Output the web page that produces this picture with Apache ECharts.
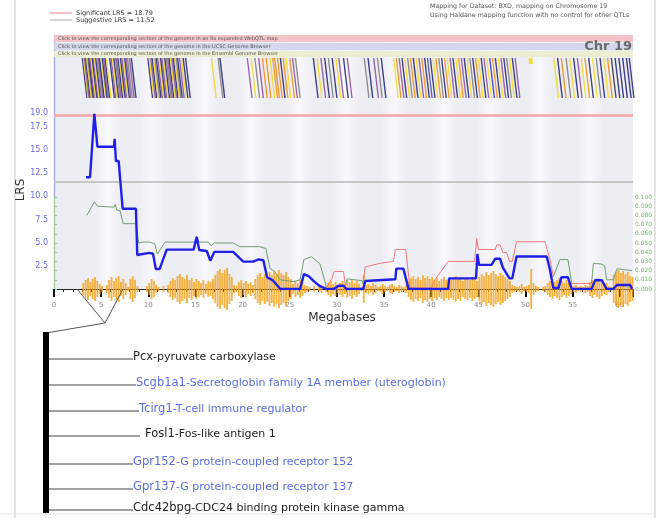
<!DOCTYPE html>
<html><head><meta charset="utf-8">
<script src="https://cdn.jsdelivr.net/npm/echarts@6/dist/echarts.min.js"></script>
<style>html,body{margin:0;padding:0;background:#fff}#chart{width:659px;height:518px}</style>
</head><body><div id="chart"></div>
<script>
// Chromosome 19 interval map: LRS curve, additive effect, SNP density and gene track
const chrLength = 61.4;
const sigLRS = 18.79;
const sugLRS = 11.52;

// LRS profile (Mb, LRS)
const lrsMb = [3.39,3.82,4.28,4.60,6.36,6.43,6.57,6.86,7.28,8.69,8.83,10.10,10.50,10.80,11.20,11.95,14.80,15.13,15.40,16.20,16.58,17.00,19.00,20.07,21.10,21.70,22.20,22.60,23.25,24.00,26.10,26.50,27.00,27.60,28.20,28.90,29.70,30.15,30.70,31.00,32.80,33.00,36.20,36.30,37.05,37.60,41.80,41.90,44.75,44.90,45.07,46.40,46.80,47.30,47.60,47.80,48.30,48.60,49.05,52.25,52.60,52.95,53.50,53.80,54.50,54.90,57.00,57.40,58.10,58.60,59.30,59.70,61.10,61.30];
const lrsVal = [12.05,12.05,18.9,15.35,15.35,16.2,13.8,13.8,8.66,8.66,3.67,3.9,3.8,2.15,2.15,4.25,4.25,5.6,4.2,4.1,3.05,4.0,4.0,2.95,2.95,3.2,3.1,1.26,0.9,0,0,1.6,1.4,0.8,0.3,0,0,0.35,0.35,0,0,0.86,1.05,2.2,2.2,0,0,1.15,1.15,3.78,2.6,2.6,3.27,3.27,2.3,2.3,1.15,1.15,3.5,3.5,2.05,0.1,0.1,1.26,1.26,0,0,0.97,0.95,0,0,0.43,0.43,0];

// Additive effect, positive (green) and negative (red, absolute value); null = gap
const greenMb = [3.47,3.82,4.28,4.60,6.36,6.50,6.65,7.00,7.35,8.70,8.98,9.48,10.20,10.70,10.96,11.77,14.95,15.13,15.40,16.36,16.65,17.00,19.00,19.72,21.80,22.00,22.47,22.90,23.40,24.00,25.40,26.10,26.50,27.30,28.20,28.90,28.90,30.90,31.10,32.70,32.90,32.90,52.95,53.65,54.50,54.90,54.90,57.00,57.20,58.10,58.40,58.60,59.30,59.70,61.30];
const greenVal = [0.080,0.086,0.095,0.090,0.089,0.092,0.086,0.085,0.071,0.071,0.050,0.051,0.051,0.049,0.038,0.051,0.051,0.057,0.051,0.051,0.047,0.050,0.050,0.046,0.046,0.044,0.044,0.0225,0.019,0.010,0.008,0.010,0.032,0.035,0.0275,0.002,null,0.004,0.011,0.009,0.001,null,0.0134,0.032,0.032,0.006,null,0.006,0.028,0.027,0.025,0.010,0.010,0.022,0.020];
const redMb = [28.90,29.50,29.70,30.70,30.90,30.90,32.80,33.00,34.60,36.00,36.20,37.30,37.75,40.00,40.40,41.80,44.60,44.83,45.00,46.80,46.95,47.30,47.60,48.00,48.30,48.60,49.05,52.07,52.60,52.95,52.95,54.90,57.00];
const redVal = [0.002,0.012,0.019,0.019,0.004,null,0.008,0.024,0.028,0.030,0.043,0.043,0.001,0.001,0.010,0.030,0.030,0.055,0.043,0.043,0.048,0.048,0.0395,0.0395,0.030,0.030,0.0514,0.0514,0.0315,0.0134,null,0.006,0.006];

// SNP density in 0.25 Mb bins starting at 0 Mb (mirrored about the axis)
const snpBin = 0.25;
const snpDensity = [0,0,0,0,0,0,0,0,0,0,0,0,
  6,9,11,7,10,12,8,5, 3,0,4, 9,12,8,11,13,7,10,6, 2, 10,13,9, 3,0,0,0,3,
  6,10,8,4, 2,0,3,0,4, 8,11,9,13,15,12,10,14,9,11,7,10,8, 6,9,5,8,7,10,
  14,18,20,16,19,21,15,12, 4,3, 7,9,6,8,5,7,4, 10,14,16,12,15,13,17,14,
  18,15,19,16,14,17,12,10, 5,8,6,9,7,4,3, 2,0,3,0,2,4,0,3, 6,8,5,7,4,
  6,8,5,9,7,10,6,8,5, 2,14, 4,5,3,6,4,2,3,5, 3,2,4,5,3,2,4,3,2,4,
  8,11,13,10,12,9,14,11,13,10,12,9,11,8,10,12,9,11,
  9,11,13,10,12,8,10,11,9,12,10,8,
  12,15,13,17,14,16,18,15,13,16,14,12,10,8, 4,3,2,3,5,2,3, 4,20,6, 3,2,0,2,3,
  6,8,10,7,9,11,8,6,9,7,5, 3,4,2,3,2,4,3, 7,9,6,8,10,7,5,6, 3,2,
  14,17,19,16,18,15,17,13,12];

// Gene track: start position (Mb) and feature colour code
const genePos = [3.0,3.12,3.22,3.35,3.45,3.58,3.68,3.8,3.92,4.05,4.15,4.3,4.42,4.55,4.7,4.82,5.0,5.12,5.25,5.4,5.55,5.9,6.05,6.2,6.35,6.5,6.62,6.78,6.92,7.05,7.2,7.35,7.5,7.65,7.8,8.0,8.2,
  9.95,10.1,10.25,10.4,10.55,10.7,10.85,11.0,11.15,11.3,11.45,11.6,11.75,11.9,12.05,12.2,12.35,12.5,12.65,12.8,12.95,13.1,13.3,13.5,13.7,13.95,
  16.7,17.4,17.6,20.5,20.9,21.3,21.7,22.1,22.5,22.9,23.2,23.4,23.7,24.0,24.3,24.6,25.0,25.3,25.6,
  27.5,27.9,28.3,28.7,29.1,29.5,29.9,30.2,30.7,31.1,32.9,33.3,33.9,34.3,34.7,
  36.0,36.3,36.6,36.9,37.2,37.5,37.8,38.1,38.4,38.7,39.0,39.3,39.6,39.9,40.2,40.5,40.8,41.1,41.4,41.7,42.0,42.3,42.6,42.9,43.2,43.5,43.8,44.1,44.4,44.7,45.0,45.3,45.6,45.9,46.2,46.5,46.8,47.1,47.4,47.7,48.0,48.3,48.6,48.9,
  53.0,53.4,53.8,54.3,54.7,55.1,55.5,55.9,56.3,56.7,57.1,57.5,57.9,58.3,58.7,59.1,59.5,59.9,60.3,60.7,61.0];
const geneColor = "nypnygnpynpyngpnynpnynpyngpnynpynpgpn" +
  "nypnygnpynpyngpnypnygnpyn" +
  "nygnpygpooyooonoyop" +
  "gnypngnypnpgnpg" +
  "nyopnygonypontnyognoypnyopnygnoynpybonyp" +
  "ngynpynogynpyonygnyok";
const geneTopPos = 50.5; // short marker at top of track
const palette = {n:'#1e1e70', y:'#f0d820', p:'#8a4c9c', g:'#7c7c7c', o:'#f08a12', b:'#2626d6', t:'#4a4a9a', k:'#333333'};

// Lighter background columns (Mb centres)
const shadeCenters = [5.7, 10.4, 16.0, 20.9, 26.0, 31.0, 36.1, 41.4, 46.3, 51.5, 56.8];

// Gene details for the expanded interval
const zoomRange = [2.44, 7.32];
const geneSymbols = ["Pcx","Scgb1a1","Tcirg1","Fosl1","Gpr152","Gpr137","Cdc42bpg"];
const geneNames = ["pyruvate carboxylase","Secretoglobin family 1A member (uteroglobin)","T-cell immune regulator","Fos-like antigen 1","G protein-coupled receptor 152","G protein-coupled receptor 137","CDC24 binding protein kinase gamma"];
const geneLinked = [false,true,true,false,true,true,false];

const FONT = 'DejaVu Sans';
const chart = echarts.init(document.getElementById('chart'), null, {renderer:'canvas'});

const pair = (xs, ys) => xs.map((x, i) => [x, ys[i] === null ? '-' : ys[i]]);
const snpData = snpDensity.map((v, i) => [i * snpBin, v]);
const geneData = genePos.map((p, i) => [p, geneColor[i] || 'n']);
geneData.push([geneTopPos, 'y']);

const G = {left:54, width:579};
const hiddenX = i => ({gridIndex:i, type:'value', min:0, max:chrLength, show:false});
const BASE = '#ededf4';
const shadeFill = {type:'linear', x:0, y:0, x2:1, y2:0, colorStops:[
  {offset:0, color:BASE}, {offset:0.5, color:'#f8f8fc'}, {offset:1, color:BASE}]};

chart.setOption({
  animation:false,
  grid:[
    {left:G.left, width:G.width, top:35, height:254, show:true, backgroundColor:BASE, borderWidth:0},
    {left:G.left, width:G.width, top:197, height:92},
    {left:G.left, width:G.width, top:264, height:50},
    {left:G.left, width:G.width, top:58, height:40}
  ],
  xAxis:[
    {gridIndex:0, type:'value', min:0, max:chrLength, interval:5,
     axisLine:{lineStyle:{color:'#222', width:1.2}},
     axisTick:{show:true, length:8, lineStyle:{color:'#111', width:2}},
     minorTick:{show:true, splitNumber:5, length:3, lineStyle:{color:'#333', width:1}},
     axisLabel:{fontSize:7, color:'#888', margin:13, fontFamily:FONT,
       formatter:v => (v % 5 === 0 ? String(v) : '')},
     splitLine:{show:false}},
    hiddenX(1), hiddenX(2), hiddenX(3)
  ],
  yAxis:[
    {gridIndex:0, type:'value', min:0, max:27.4,
     axisLine:{show:true, lineStyle:{color:'#a0a0f0', width:1.2}},
     axisTick:{show:false}, splitLine:{show:false},
     axisLabel:{customValues:[2.5,5,7.5,10,12.5,15,17.5,19], formatter:v => v.toFixed(1),
       fontSize:8, color:'#6a6ae6', fontFamily:FONT, margin:6}},
    {gridIndex:1, type:'value', min:0, max:0.1, interval:0.01, position:'right',
     axisLine:{show:true, lineStyle:{color:'#9ccc9c'}},
     axisTick:{show:true, length:3, lineStyle:{color:'#9ccc9c'}},
     splitLine:{show:false},
     axisLabel:{formatter:v => v.toFixed(3), fontSize:6, color:'#7ab27a', fontFamily:FONT, margin:2}},
    {gridIndex:2, type:'value', min:-25, max:25, show:false},
    {gridIndex:3, type:'value', min:0, max:1, show:false}
  ],
  series:[
    {type:'custom', name:'SNP density', xAxisIndex:2, yAxisIndex:2, z:3, data:snpData,
     renderItem:(params, api) => {
       const x = api.value(0), a = api.value(1);
       if (!a) return null;
       const p1 = api.coord([x, a]), p2 = api.coord([x + snpBin, -a]);
       return {type:'rect', shape:{x:p1[0], y:p1[1], width:(p2[0]-p1[0]) * 0.8, height:p2[1]-p1[1]},
               style:{fill:'#f5a015', opacity:0.8}};
     }},
    {type:'custom', name:'Genes', xAxisIndex:3, yAxisIndex:3, z:3, data:geneData,
     encode:{x:0},
     renderItem:(params, api) => {
       const d = geneData[params.dataIndex];
       const top = api.coord([d[0], 1]);
       const bot = d[0] === geneTopPos ? api.coord([d[0] + 0.1, 0.85]) : api.coord([d[0] + 0.5, 0]);
       return {type:'line', shape:{x1:top[0], y1:top[1], x2:bot[0], y2:bot[1]},
               style:{stroke:palette[d[1]] || '#1e1e70', lineWidth: d[0] === geneTopPos ? 4 : 1.4, opacity:0.85}};
     }},
    {type:'line', name:'Additive +', xAxisIndex:1, yAxisIndex:1, z:4, data:pair(greenMb, greenVal),
     symbol:'none', connectNulls:false, lineStyle:{color:'#6f9f6f', width:1}},
    {type:'line', name:'Additive -', xAxisIndex:1, yAxisIndex:1, z:4, data:pair(redMb, redVal),
     symbol:'none', connectNulls:false, lineStyle:{color:'#f07878', width:1}},
    {type:'line', name:'LRS', xAxisIndex:0, yAxisIndex:0, z:6, data:pair(lrsMb, lrsVal),
     symbol:'none', lineStyle:{color:'#1f1fe8', width:2.4},
     markArea:{silent:true, z:1, itemStyle:{color:shadeFill},
       data:shadeCenters.map(c => [{xAxis:c - 1.4}, {xAxis:c + 1.4}])},
     markLine:{silent:true, symbol:'none', label:{show:false}, z:2,
       data:[{yAxis:sigLRS, lineStyle:{color:'#f3a6ac', width:2.5, type:'solid'}},
             {yAxis:sugLRS, lineStyle:{color:'#c6c6c6', width:2, type:'solid'}}]}}
  ]
});

// Layout annotations built from the axis scale
const px = mb => chart.convertToPixel({xAxisIndex:0}, mb);
const axisY = chart.convertToPixel({yAxisIndex:0}, 0);
const apex = [105, 323];
const barX = 43, barTop = 332, barBottom = 513;
const rowY = [357, 383, 409, 434, 462, 487, 508];
const rowX = [133, 136, 139, 145, 133, 133, 133];
const lineEnd = [133, 136, 139, 140, 133, 133, 133];

const graphics = [
  {type:'line', shape:{x1:15, y1:0, x2:15, y2:518}, style:{stroke:'#c8c8c8', lineWidth:1}},
  {type:'line', shape:{x1:655, y1:0, x2:655, y2:518}, style:{stroke:'#c8c8c8', lineWidth:1}},
  {type:'line', shape:{x1:0, y1:514, x2:655, y2:514}, style:{stroke:'#e2e2e2', lineWidth:1}},
  // threshold legend
  {type:'line', shape:{x1:50, y1:13, x2:72, y2:13}, style:{stroke:'#f3a6ac', lineWidth:1.5}},
  {type:'text', x:76, y:13, style:{text:'Significant LRS = ' + sigLRS, fontSize:6.5, fontFamily:FONT, fill:'#333', verticalAlign:'middle'}},
  {type:'line', shape:{x1:50, y1:20, x2:72, y2:20}, style:{stroke:'#c6c6c6', lineWidth:1.5}},
  {type:'text', x:76, y:20, style:{text:'Suggestive LRS = ' + sugLRS, fontSize:6.5, fontFamily:FONT, fill:'#333', verticalAlign:'middle'}},
  // mapping notes
  {type:'text', x:430, y:6, style:{text:'Mapping for Dataset: BXD, mapping on Chromosome 19', fontSize:6.3, fontFamily:FONT, fill:'#555', verticalAlign:'middle'}},
  {type:'text', x:430, y:15, style:{text:'Using Haldane mapping function with no control for other QTLs', fontSize:6.3, fontFamily:FONT, fill:'#555', verticalAlign:'middle'}},
  // genome browser link bands
  {type:'rect', shape:{x:G.left, y:35, width:G.width, height:7}, style:{fill:'#f4c4c8'}},
  {type:'rect', shape:{x:G.left, y:43, width:G.width, height:7}, style:{fill:'#d4d6ee'}},
  {type:'rect', shape:{x:G.left, y:51, width:G.width, height:6}, style:{fill:'#eceed2'}},
  {type:'text', x:58, y:38.5, style:{text:'Click to view the corresponding section of the genome in an 8x expanded WebQTL map', fontSize:5, fontFamily:FONT, fill:'#555', verticalAlign:'middle'}},
  {type:'text', x:58, y:46.5, style:{text:'Click to view the corresponding section of the genome in the UCSC Genome Browser', fontSize:5, fontFamily:FONT, fill:'#555', verticalAlign:'middle'}},
  {type:'text', x:58, y:54, style:{text:'Click to view the corresponding section of the genome in the Ensembl Genome Browser', fontSize:5, fontFamily:FONT, fill:'#555', verticalAlign:'middle'}},
  {type:'text', x:632, y:47, style:{text:'Chr 19', fontSize:13, fontWeight:'bold', fontFamily:FONT, fill:'#6a6a6a', align:'right', verticalAlign:'middle'}},
  // axis titles
  {type:'text', x:21, y:190, rotation:Math.PI/2, style:{text:'LRS', fontSize:12, fontFamily:FONT, fill:'#333', align:'center', verticalAlign:'middle'}},
  {type:'text', x:342, y:318, style:{text:'Megabases', fontSize:12, fontFamily:FONT, fill:'#333', align:'center', verticalAlign:'middle'}},
  // expanded interval connector
  {type:'polyline', shape:{points:[[px(zoomRange[0]), axisY], apex, [px(zoomRange[1]), axisY]]}, style:{stroke:'#555', lineWidth:1, fill:null}},
  {type:'line', shape:{x1:apex[0], y1:apex[1], x2:barX + 3, y2:barTop + 1}, style:{stroke:'#555', lineWidth:1}},
  {type:'rect', shape:{x:barX, y:barTop, width:6, height:barBottom - barTop}, style:{fill:'#000'}}
];
geneSymbols.forEach((s, i) => {
  const col = geneLinked[i] ? '#5a6ce0' : '#222';
  graphics.push({type:'line', shape:{x1:barX + 6, y1:rowY[i] + 2, x2:lineEnd[i], y2:rowY[i] + 2}, style:{stroke:'#444', lineWidth:1}});
  graphics.push({type:'text', x:rowX[i], y:rowY[i], style:{
    text:'{s|' + s + '}{d|-' + geneNames[i] + '}', verticalAlign:'middle',
    rich:{s:{fontSize:11.5, fontFamily:FONT, fill:col},
          d:{fontSize:11, fontFamily:FONT, fill:col}}}});
});
graphics.forEach(g => { g.z = 10; });
chart.setOption({graphic:graphics});
</script></body></html>
